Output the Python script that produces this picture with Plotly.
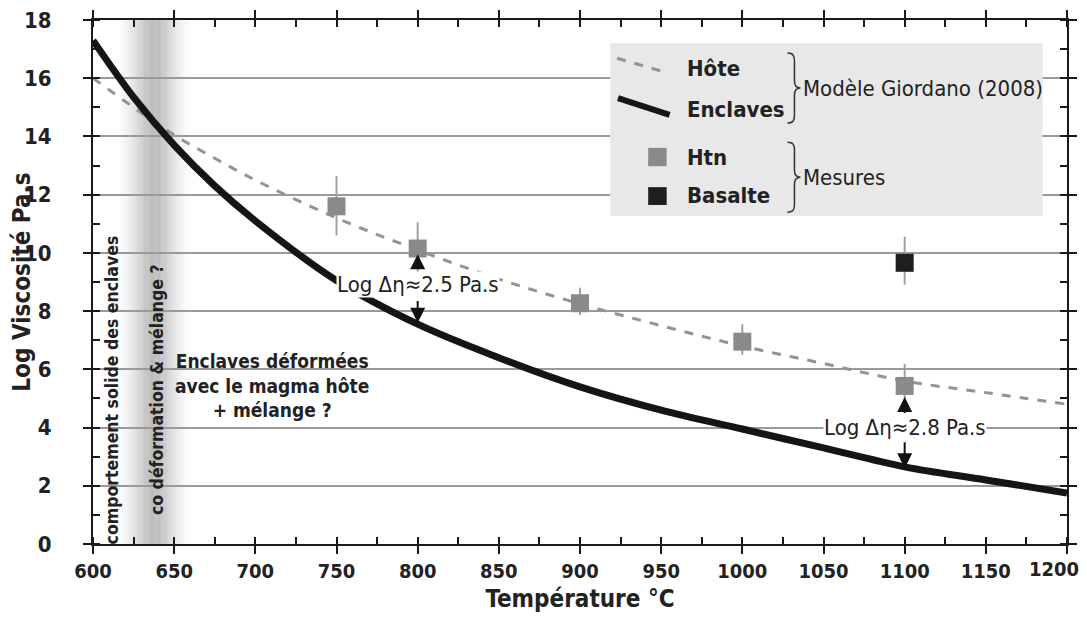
import numpy as np
import plotly.graph_objects as go

# Giordano (2008) model curves, log viscosity (Pa.s) vs temperature (degC)
temp_model = [600, 625, 650, 675, 700, 750, 800, 850, 900, 950, 1000, 1050, 1100, 1150, 1200]
hote_model = [16.0, 15.0, 14.05, 13.25, 12.5, 11.2, 10.1, 9.1, 8.25, 7.5, 6.8, 6.2, 5.6, 5.2, 4.8]
enclaves_model = [17.3, 15.35, 13.7, 12.3, 11.1, 9.05, 7.55, 6.4, 5.4, 4.6, 3.95, 3.3, 2.65, 2.2, 1.75]

# measurements
htn_temp = [750, 800, 900, 1000, 1100]
htn_visc = [11.6, 10.15, 8.27, 6.95, 5.43]
htn_err_up = [1.04, 0.9, 0.53, 0.6, 0.75]
htn_err_down = [1.0, 0.85, 0.4, 0.45, 0.7]

basalte_temp = [1100]
basalte_visc = [9.66]
basalte_err_up = [0.9]
basalte_err_down = [0.75]

# x tick labels (last one is drawn right-aligned at the frame edge)
x_ticks = [600, 650, 700, 750, 800, 850, 900, 950, 1000, 1050, 1100, 1150, 1200]
x_ticktext = ["600", "650", "700", "750", "800", "850", "900", "950",
              "1000", "1050", "1100", "1150", ""]
last_tick_label = "1200"

# transition band (solid / co-deformation)
band_lo, band_hi = 617, 660

FONT = "DejaVu Sans Condensed, Liberation Sans Narrow, sans-serif"
BOLD = dict(family=FONT, size=22, color="#222222", weight="bold")
REG = dict(family=FONT, size=22, color="#222222")
XTICK = dict(family=FONT, size=20, color="#222222", weight="bold")

BRACE = ("M 0,35 C 6,35 7,32 7,27 L 7,7 C 7,2 9,0 13,0 "
         "C 9,0 7,-2 7,-7 L 7,-27 C 7,-32 6,-35 0,-35")


def main():
    fig = go.Figure()

    # grey gradient band
    n = 60
    edges = np.linspace(band_lo, band_hi, n + 1)
    mid = 637.5
    half = 0.5 * (band_hi - band_lo)
    for i in range(n):
        c = 0.5 * (edges[i] + edges[i + 1])
        op = 0.45 * np.exp(-((c - mid) / (0.6 * half)) ** 2)
        fig.add_vrect(x0=edges[i], x1=edges[i + 1], fillcolor="#6a6a6a",
                      opacity=float(op), line_width=0, layer="below")

    fig.add_trace(go.Scatter(
        x=temp_model, y=hote_model, mode="lines", name="Hôte",
        line=dict(color="#939393", width=3, dash="dash", shape="spline")))
    fig.add_trace(go.Scatter(
        x=temp_model, y=enclaves_model, mode="lines", name="Enclaves",
        line=dict(color="#151515", width=7, shape="spline")))
    fig.add_trace(go.Scatter(
        x=htn_temp, y=htn_visc, mode="markers", name="Htn",
        marker=dict(symbol="square", size=18, color="#8a8a8a"),
        error_y=dict(type="data", array=htn_err_up, arrayminus=htn_err_down,
                     color="#a0a0a0", thickness=2, width=0)))
    fig.add_trace(go.Scatter(
        x=basalte_temp, y=basalte_visc, mode="markers", name="Basalte",
        marker=dict(symbol="square", size=18, color="#1e1e1e"),
        error_y=dict(type="data", array=basalte_err_up, arrayminus=basalte_err_down,
                     color="#a0a0a0", thickness=2, width=0)))

    # hand-made legend box
    fig.add_shape(type="rect", xref="paper", yref="paper",
                  x0=0.531, x1=0.975, y0=0.626, y1=0.956,
                  fillcolor="#e8e8e8", line_width=0, layer="above")
    fig.add_shape(type="line", xref="paper", yref="paper",
                  x0=0.538, y0=0.927, x1=0.590, y1=0.899,
                  line=dict(color="#939393", width=3, dash="dash"), layer="above")
    fig.add_shape(type="line", xref="paper", yref="paper",
                  x0=0.539, y0=0.851, x1=0.592, y1=0.819,
                  line=dict(color="#151515", width=6), layer="above")
    fig.add_shape(type="rect", xref="paper", yref="paper",
                  x0=0.570, x1=0.589, y0=0.721, y1=0.756,
                  fillcolor="#8a8a8a", line_width=0, layer="above")
    fig.add_shape(type="rect", xref="paper", yref="paper",
                  x0=0.570, x1=0.589, y0=0.647, y1=0.681,
                  fillcolor="#1e1e1e", line_width=0, layer="above")
    for yy in [0.870, 0.700]:
        fig.add_shape(type="path", xref="paper", yref="paper",
                      xsizemode="pixel", ysizemode="pixel",
                      xanchor=0.713, yanchor=yy, path=BRACE,
                      line=dict(color="#333333", width=1.5), layer="above")

    ann = []
    for yy, label in [(0.908, "Hôte"), (0.830, "Enclaves"),
                      (0.737, "Htn"), (0.666, "Basalte")]:
        ann.append(dict(xref="paper", yref="paper", x=0.608, y=yy, text=label,
                        showarrow=False, xanchor="left", yanchor="middle", font=BOLD))
    for yy, label in [(0.870, "Modèle Giordano (2008)"), (0.700, "Mesures")]:
        ann.append(dict(xref="paper", yref="paper", x=0.727, y=yy, text=label,
                        showarrow=False, xanchor="left", yanchor="middle", font=REG))

    # last x tick label, right-aligned so it stays inside the page
    ann.append(dict(x=x_ticks[-1], y=0, text=last_tick_label, showarrow=False,
                    xanchor="right", yanchor="top", xshift=14, yshift=-11,
                    font=XTICK))

    # delta labels with arrows
    ann.append(dict(x=800, y=8.9, text="Log Δη≈2.5 Pa.s", showarrow=False,
                    font=REG, bgcolor="white", borderpad=0))
    ann.append(dict(x=1100, y=4.0, text="Log Δη≈2.8 Pa.s", showarrow=False,
                    font=REG, bgcolor="white", borderpad=0))
    for (xx, tip, tail) in [(800, 9.95, 9.4), (800, 7.6, 8.4),
                            (1100, 5.05, 4.45), (1100, 2.6, 3.55)]:
        ann.append(dict(x=xx, y=tip, ax=xx, ay=tail, axref="x", ayref="y",
                        text="", showarrow=True, arrowhead=2, arrowsize=1.5,
                        arrowwidth=2, arrowcolor="#111111"))

    # region labels
    small_bold = dict(family=FONT, size=17.5, color="#222222", weight="bold")
    ann.append(dict(x=611.5, y=5.3, text="comportement solide des enclaves",
                    textangle=-90, showarrow=False, font=small_bold))
    ann.append(dict(x=639, y=5.3, text="co déformation & mélange ?",
                    textangle=-90, showarrow=False, font=small_bold))
    ann.append(dict(x=710, y=5.45,
                    text="Enclaves déformées<br>avec le magma hôte<br>+ mélange ?",
                    showarrow=False, align="center",
                    font=dict(family=FONT, size=19, color="#222222", weight="bold")))

    axis_common = dict(
        showline=True, linecolor="#1a1a1a", linewidth=2, mirror="ticks",
        ticks="outside", ticklen=8, tickwidth=2, tickcolor="#1a1a1a",
        zeroline=False, automargin=False,
    )

    # page body adds an 8px offset, so the figure is 8px smaller
    fig.update_layout(
        width=1079, height=615,
        margin=dict(l=85, r=20, t=12, b=79),
        paper_bgcolor="white", plot_bgcolor="white",
        font=dict(family=FONT, color="#222222"),
        showlegend=False,
        xaxis=dict(range=[600, 1200], tickmode="array", tickvals=x_ticks,
                   ticktext=x_ticktext, showgrid=False, tickfont=XTICK,
                   minor=dict(dtick=25, tick0=600, ticks="inside", ticklen=7,
                              tickwidth=1.5, tickcolor="#1a1a1a", showgrid=False),
                   title=dict(text="Température °C",
                              font=dict(family=FONT, size=24, color="#222222",
                                        weight="bold"), standoff=8),
                   **axis_common),
        yaxis=dict(range=[0, 18], dtick=2, tick0=0, showgrid=True,
                   gridcolor="#9a9a9a", gridwidth=1.5,
                   tickfont=dict(family=FONT, size=22, color="#222222", weight="bold"),
                   ticklabeloverflow="allow",
                   minor=dict(dtick=1, ticks="inside", ticklen=7, tickwidth=1.5,
                              tickcolor="#1a1a1a", showgrid=False),
                   ticklabelstandoff=27,
                   title=dict(text="Log Viscosité Pa.s",
                              font=dict(family=FONT, size=24, color="#222222",
                                        weight="bold"), standoff=22),
                   **axis_common),
        annotations=ann,
    )

    fig.write_html("out.html")


if __name__ == "__main__":
    main()
